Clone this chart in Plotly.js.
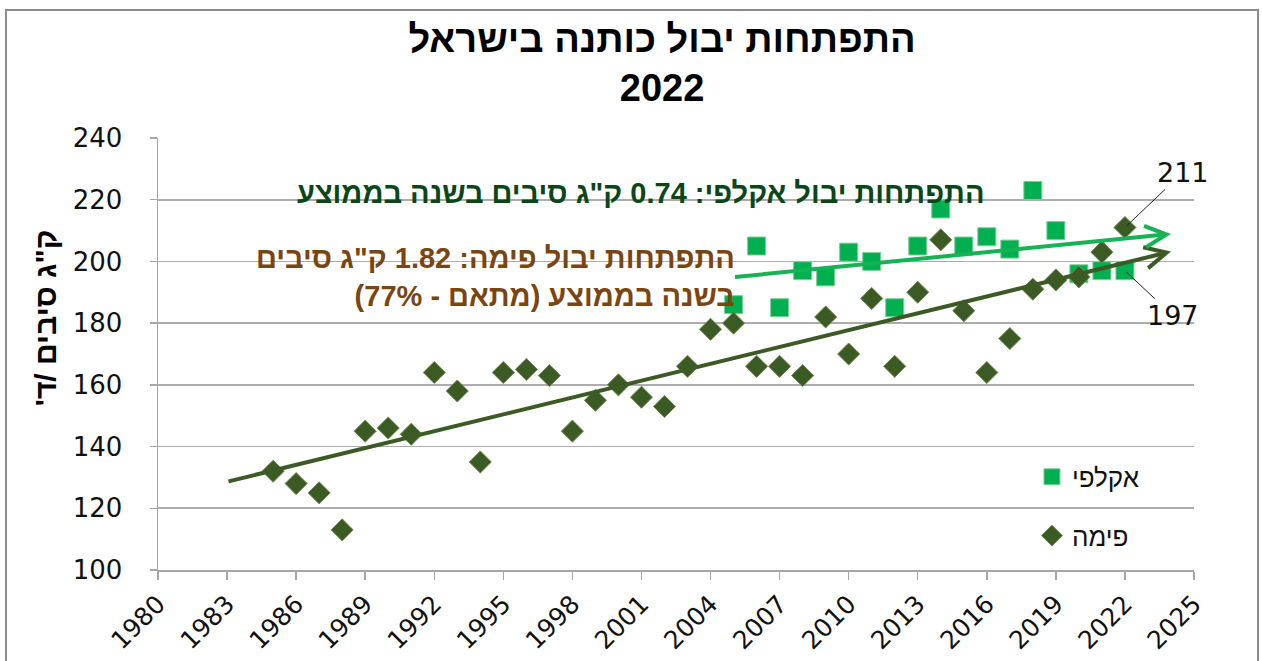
<!DOCTYPE html>
<html>
<head>
<meta charset="utf-8">
<script src="https://cdn.plot.ly/plotly-3.0.1.min.js"></script>
<style>html,body{margin:0;padding:0;background:#fff;}#chart{width:1262px;height:661px;}</style>
</head>
<body>
<div id="chart"></div>
<script>
// ---- data ----
const pimaYears = [1985,1986,1987,1988,1989,1990,1991,1992,1993,1994,1995,1996,1997,1998,1999,2000,2001,2002,2003,2004,2005,2006,2007,2008,2009,2010,2011,2012,2013,2014,2015,2016,2017,2018,2019,2020,2021,2022];
const pimaValues = [132,128,125,113,145,146,144,164,158,135,164,165,163,145,155,160,156,153,166,178,180,166,166,163,182,170,188,166,190,207,184,164,175,191,194,195,203,211];
const acalaYears = [2005,2006,2007,2008,2009,2010,2011,2012,2013,2014,2015,2016,2017,2018,2019,2020,2021,2022];
const acalaValues = [186,205,185,197,195,203,200,185,205,217,205,208,204,223,210,196,197,197];
const pimaTrendYears = [1983, 2024];
const pimaTrendValues = [128.6, 203.2];
const acalaTrendYears = [2005, 2024];
const acalaTrendValues = [194.9, 208.9];
const seriesNames = ['אקלפי', 'פימה'];
const titleLines = ['התפתחות יבול כותנה בישראל', '2022'];
const yTitle = 'ק"ג סיבים /ד\'';
const acalaNote = 'התפתחות יבול אקלפי: 0.74 ק"ג סיבים בשנה בממוצע';
const pimaNoteLines = ['התפתחות יבול פימה: 1.82 ק"ג סיבים', 'בשנה בממוצע (מתאם - 77%)'];
const labelYear = 2022;

const RLE = '\u202B', PDF = '\u202C';
const rtl = s => RLE + s + PDF;

const HEB = 'Liberation Sans, Arial, DejaVu Sans, sans-serif';
const NUM = 'DejaVu Sans, Liberation Sans, sans-serif';

const traces = [
  {
    type: 'scatter', mode: 'markers', name: rtl(seriesNames[0]),
    x: acalaYears, y: acalaValues, legendgroup: 'a',
    marker: {symbol: 'square', size: 18, color: '#00B050', line: {width: 1, color: '#7fcf95'}},
    hoverinfo: 'x+y'
  },
  {
    type: 'scatter', mode: 'markers', name: rtl(seriesNames[1]),
    x: pimaYears, y: pimaValues, legendgroup: 'b',
    marker: {symbol: 'diamond', size: 17, color: '#3B5A24', line: {width: 1, color: '#6f8f55'}},
    hoverinfo: 'x+y'
  }
];

const iLast = acalaYears.indexOf(labelYear);
const pLast = pimaYears.indexOf(labelYear);

const annotations = [
  // trend arrows
  {xref: 'x', yref: 'y', axref: 'x', ayref: 'y',
   x: pimaTrendYears[1], y: pimaTrendValues[1], ax: pimaTrendYears[0], ay: pimaTrendValues[0],
   text: '', showarrow: true, arrowhead: 5, arrowsize: 1.05, arrowwidth: 4, arrowcolor: '#3B5A24', standoff: 0},
  {xref: 'x', yref: 'y', axref: 'x', ayref: 'y',
   x: acalaTrendYears[1], y: acalaTrendValues[1], ax: acalaTrendYears[0], ay: acalaTrendValues[0],
   text: '', showarrow: true, arrowhead: 5, arrowsize: 1.05, arrowwidth: 4, arrowcolor: '#14B355', standoff: 0},
  // notes
  {xref: 'paper', yref: 'paper', x: 0.8002, y: 0.8727, xanchor: 'right', yanchor: 'middle',
   text: rtl(acalaNote), showarrow: false,
   font: {family: HEB, size: 29, color: '#0B4619', weight: 'bold'}},
  {xref: 'paper', yref: 'paper', x: 0.5589, y: 0.678, xanchor: 'right', yanchor: 'middle', align: 'right',
   text: pimaNoteLines.map(rtl).join('<br>'), showarrow: false,
   font: {family: HEB, size: 29, color: '#7A4510', weight: 'bold'}},
  // data labels
  {xref: 'x', yref: 'y', x: pimaYears[pLast], y: pimaValues[pLast], text: String(pimaValues[pLast]),
   showarrow: true, arrowhead: 0, arrowwidth: 1, arrowcolor: '#222', ax: 58, ay: -55, standoff: 2,
   font: {family: NUM, size: 27, color: '#111'}},
  {xref: 'x', yref: 'y', x: acalaYears[iLast], y: acalaValues[iLast], text: String(acalaValues[iLast]),
   showarrow: true, arrowhead: 0, arrowwidth: 1, arrowcolor: '#222', ax: 48, ay: 45, standoff: 2,
   font: {family: NUM, size: 27, color: '#111'}},
  // y axis title
  {xref: 'paper', yref: 'paper', x: -0.109, y: 0.583, xanchor: 'center', yanchor: 'middle',
   textangle: -90, text: rtl(yTitle), showarrow: false,
   font: {family: HEB, size: 30, color: '#000', weight: 'bold'}}
];

const layout = {
  width: 1262, height: 661,
  paper_bgcolor: '#fff', plot_bgcolor: '#fff',
  margin: {l: 158, r: 68, t: 138, b: 91, pad: 0},
  title: {
    text: titleLines.map(rtl).join('<br>'),
    xref: 'container', yref: 'container', x: 0.5246, xanchor: 'center', y: 0.922, yanchor: 'top',
    font: {family: HEB, size: 38, color: '#000', weight: 'bold'}
  },
  showlegend: true,
  legend: {
    x: 0.8436, xanchor: 'left', y: 0.27, yanchor: 'top',
    traceorder: 'grouped', tracegroupgap: 22,
    font: {family: HEB, size: 26, color: '#111'},
    bgcolor: 'rgba(0,0,0,0)'
  },
  xaxis: {
    range: [1980, 2025], tick0: 1980, dtick: 3, tickmode: 'linear',
    showgrid: false, zeroline: false,
    showline: true, linecolor: '#a6a6a6', linewidth: 1.5,
    ticks: 'outside', ticklen: 8, tickcolor: '#a6a6a6', tickwidth: 1.5,
    tickangle: -45, tickfont: {family: NUM, size: 25, color: '#111'},
    fixedrange: true
  },
  yaxis: {
    range: [100, 240], tick0: 100, dtick: 20, tickmode: 'linear',
    showgrid: true, gridcolor: '#adadad', gridwidth: 1.6, zeroline: false,
    showline: true, linecolor: '#a6a6a6', linewidth: 1.5,
    ticks: 'outside', ticklen: 7, tickcolor: '#a6a6a6', tickwidth: 1.5,
    tickfont: {family: NUM, size: 26, color: '#111'},
    ticklabelstandoff: 22,
    fixedrange: true
  },
  shapes: [
    {type: 'rect', xref: 'paper', yref: 'paper', x0: -0.1467, x1: 1.0618, y0: -0.23, y1: 1.2963,
     line: {color: '#8c8c8c', width: 2}, fillcolor: 'rgba(0,0,0,0)', layer: 'below'}
  ],
  annotations: annotations
};

Plotly.newPlot('chart', traces, layout, {displayModeBar: false, staticPlot: true});
</script>
</body>
</html>
